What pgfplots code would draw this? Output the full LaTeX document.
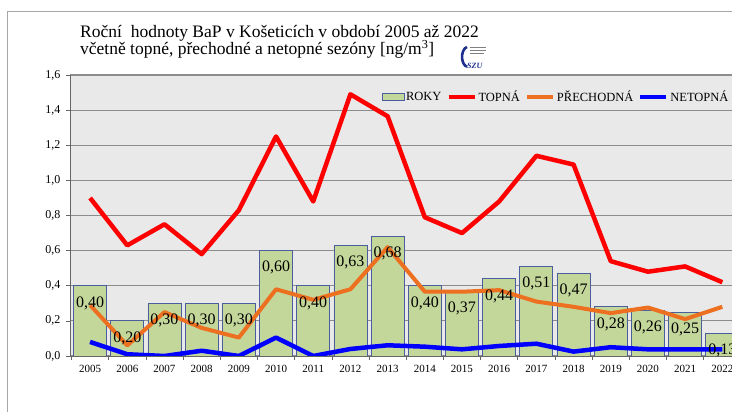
\documentclass[border=0pt]{standalone}
\usepackage{fontspec}
\setmainfont{Liberation Serif}
\usepackage{pgfplots}
\pgfplotsset{compat=1.18}
\definecolor{barfill}{HTML}{C4D79B}
\definecolor{baredge}{HTML}{4A5E9E}
\definecolor{bgcol}{HTML}{E9E9E9}
\definecolor{gridcol}{HTML}{8C8C8C}
\definecolor{orangeline}{HTML}{EC7020}
\definecolor{framecol}{HTML}{A6A6A6}
\definecolor{logoblue}{HTML}{1F2F8F}
\begin{document}
\begin{tikzpicture}[x=1pt,y=1pt]
% outer frame
\draw[framecol, line width=1pt] (7.5,0) -- (7.5,400) -- (740,400);
% title
\node[anchor=base west, inner sep=0pt, font=\fontsize{17.5}{19}\selectfont] at (80,374.3) {Roční\ \ hodnoty BaP v Košeticích v období 2005 až 2022};
\node[anchor=base west, inner sep=0pt, font=\fontsize{17.5}{19}\selectfont] at (80,357) {včetně topné, přechodné a netopné sezóny [ng/m\textsuperscript{3}]};
% logo (approximation)
\draw[logoblue, line width=2.6pt] (467,365) arc[start angle=100, end angle=260, x radius=6, y radius=10];
\draw[gray, line width=0.7pt] (470,365) -- (486,365) (470,362) -- (486,362) (470,359) -- (484,359);
\node[anchor=base west, inner sep=0pt, font=\fontsize{8}{8}\selectfont\bfseries\itshape, text=logoblue] at (467,343) {SZU};
\begin{axis}[
  at={(70pt,56pt)}, anchor=south west,
  scale only axis, width=662pt, height=281pt,
  xmin=-0.54, xmax=17.26, ymin=0, ymax=1.6,
  axis background/.style={fill=bgcol},
  axis x line*=bottom, axis y line*=left,
  axis line style={black!60, line width=0.8pt},
  ytick={0,0.2,...,1.6},
  ymajorgrids, major grid style={gridcol, line width=1.1pt},
  tick align=outside, major tick length=4pt,
  tick style={black!60, line width=0.6pt},
  xtick={-0.5,0.5,...,17.5}, xticklabels={},
  extra x ticks={0,1,...,17},
  extra x tick labels={2005,2006,2007,2008,2009,2010,2011,2012,2013,2014,2015,2016,2017,2018,2019,2020,2021,2022},
  extra x tick style={major tick length=0pt},
  x tick label style={font=\fontsize{11}{11}\selectfont, yshift=-6pt},
  y tick label style={font=\fontsize{12}{12}\selectfont, xshift=-2pt, /pgf/number format/.cd, fixed, fixed zerofill, precision=1, use comma, assume math mode=true},
  legend columns=4,
  legend style={at={(axis description cs:0.998,0.922)}, anchor=east, draw=none, fill=none, inner sep=0pt,
    font=\fontsize{12.5}{12.5}\selectfont,
    /tikz/every even column/.append style={column sep=3pt}},
  legend cell align=left,
]
\addplot[ybar, bar width=33pt, bar shift=0pt, fill=barfill, draw=baredge, line width=0.8pt,
  nodes near coords={\pgfmathprintnumber[fixed,fixed zerofill,precision=2,use comma,assume math mode=true]{\pgfplotspointmeta}},
  every node near coord/.append style={font=\fontsize{16}{16}\selectfont, anchor=north, yshift=-7pt, text=black},
  legend image code/.code={\draw[fill=barfill, draw=baredge, line width=0.6pt] (0pt,-3.5pt) rectangle (22pt,3.5pt);}
] coordinates {
(0,0.40) (1,0.20) (2,0.30) (3,0.30) (4,0.30) (5,0.60) (6,0.40) (7,0.63) (8,0.68)
(9,0.40) (10,0.37) (11,0.44) (12,0.51) (13,0.47) (14,0.28) (15,0.26) (16,0.25) (17,0.13)};
\addlegendentry{ROKY}
\addplot[red, line width=4.5pt, line join=round, no markers,
  legend image code/.code={\draw[red, line width=4pt] (0pt,0pt) -- (26pt,0pt);}] coordinates {
(0,0.90) (1,0.63) (2,0.75) (3,0.58) (4,0.83) (5,1.25) (6,0.88) (7,1.49) (8,1.365)
(9,0.79) (10,0.70) (11,0.88) (12,1.14) (13,1.09) (14,0.54) (15,0.48) (16,0.51) (17,0.42)};
\addlegendentry{TOPNÁ}
\addplot[orangeline, line width=4pt, line join=round, no markers,
  legend image code/.code={\draw[orangeline, line width=4pt] (0pt,0pt) -- (26pt,0pt);}] coordinates {
(0,0.29) (1,0.06) (2,0.25) (3,0.16) (4,0.105) (5,0.38) (6,0.32) (7,0.38) (8,0.62)
(9,0.366) (10,0.366) (11,0.375) (12,0.31) (13,0.28) (14,0.244) (15,0.276) (16,0.21) (17,0.28)};
\addlegendentry{PŘECHODNÁ}
\addplot[blue, line width=4.5pt, line join=round, no markers,
  legend image code/.code={\draw[blue, line width=4pt] (0pt,0pt) -- (26pt,0pt);}] coordinates {
(0,0.08) (1,0.01) (2,0.0) (3,0.03) (4,0.0) (5,0.105) (6,0.0) (7,0.04) (8,0.061)
(9,0.053) (10,0.038) (11,0.057) (12,0.07) (13,0.025) (14,0.05) (15,0.038) (16,0.038) (17,0.038)};
\addlegendentry{NETOPNÁ}
\end{axis}
\pgfresetboundingbox
\path (0,0) rectangle (732,412);
\end{tikzpicture}
\end{document}
